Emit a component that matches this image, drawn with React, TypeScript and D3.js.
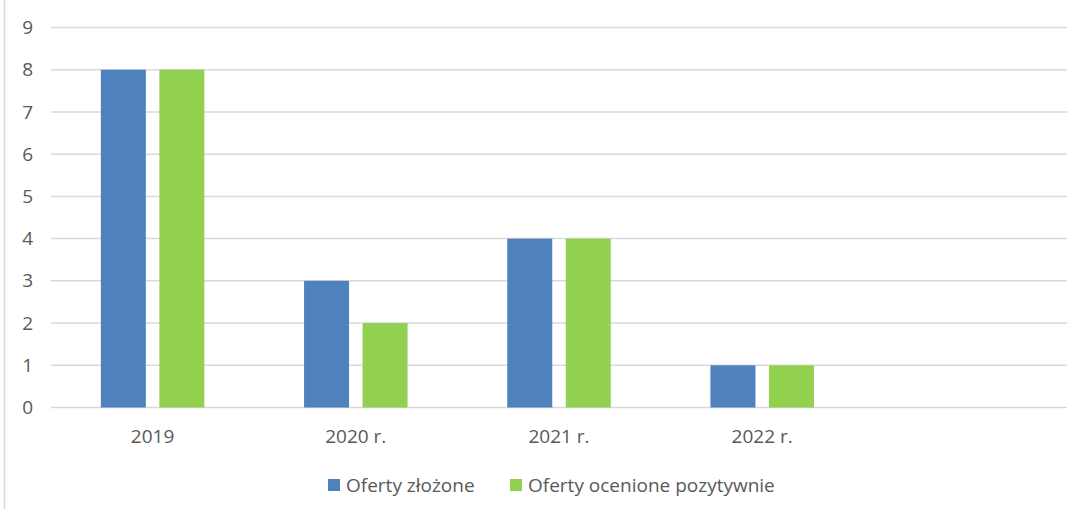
import React from "react";
import * as d3 from "d3";

const categories = ["2019", "2020 r.", "2021 r.", "2022 r.", ""];
const seriesNames = ["Oferty złożone", "Oferty ocenione pozytywnie"];
const zlozone = [8, 3, 4, 1, null];
const pozytywne = [8, 2, 4, 1, null];
const yTicks = [0, 1, 2, 3, 4, 5, 6, 7, 8, 9];
const colors = ["#4F81BD", "#92D050"];

const W = 1077;
const H = 509;
const FONT = "Open Sans, Lato, sans-serif";
const FS = 19;

export default function App() {
  const x = d3.scaleBand<string>().domain(categories.map((c, i) => String(i))).range([51, 1067]);
  const y = d3.scaleLinear().domain([0, 9]).range([407.5, 27.5]);
  const barW = 45;
  const gap = 13.5;
  const series = [zlozone, pozytywne];

  return (
    <svg
      width={W}
      height={H}
      style={{ position: "absolute", left: 0, top: 0, background: "#fff" }}
      fontFamily={FONT}
    >
      <line x1={4.5} x2={4.5} y1={0} y2={H} stroke="#D9D9D9" strokeWidth={1.5} />
      {yTicks.map((t) => (
        <g key={t}>
          <line x1={51} x2={1067} y1={y(t)} y2={y(t)} stroke="#D9D9D9" strokeWidth={1.5} />
          <text x={33} y={y(t)} dy="0.35em" textAnchor="end" fontSize={FS} fill="#595959">
            {t}
          </text>
        </g>
      ))}
      {categories.map((c, i) => {
        const cx = (x(String(i)) as number) + x.bandwidth() / 2;
        return (
          <g key={i}>
            {series.map((s, si) => {
              const v = s[i];
              if (v == null) return null;
              const bx = si === 0 ? cx - gap / 2 - barW : cx + gap / 2;
              return (
                <rect key={si} x={bx} y={y(v)} width={barW} height={y(0) - y(v)} fill={colors[si]} />
              );
            })}
            <text x={cx} y={443} textAnchor="middle" fontSize={FS} fill="#595959">
              {c}
            </text>
          </g>
        );
      })}
      <g>
        <rect x={328} y={479} width={12} height={12} fill={colors[0]} />
        <text x={346} y={492} fontSize={FS} fill="#595959">{seriesNames[0]}</text>
        <rect x={510} y={479} width={12} height={12} fill={colors[1]} />
        <text x={528} y={492} fontSize={FS} fill="#595959">{seriesNames[1]}</text>
      </g>
    </svg>
  );
}
